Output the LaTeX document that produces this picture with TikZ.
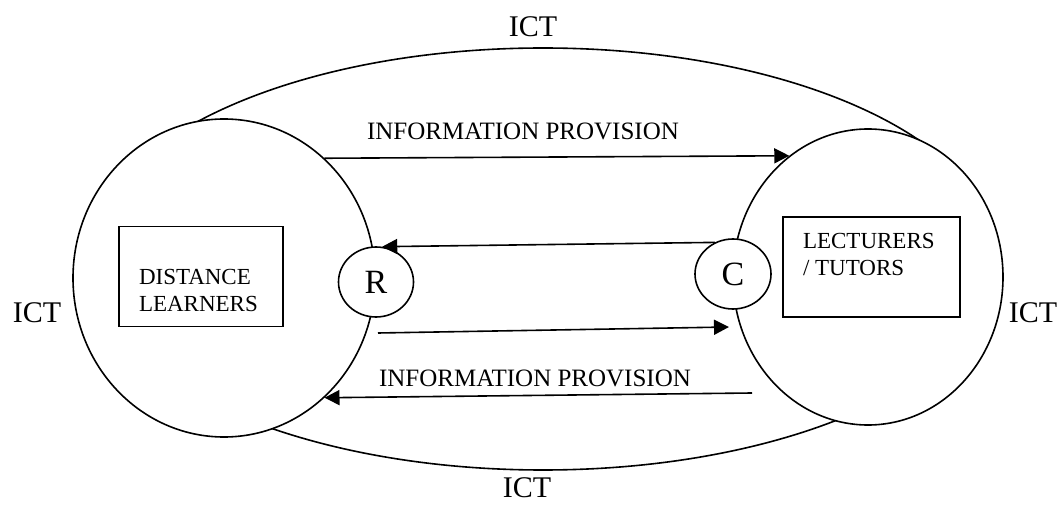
\documentclass[tikz,border=0pt]{standalone}
\usepackage{fontspec}
\setmainfont{Liberation Serif}
\usepackage{tikz}
\usetikzlibrary{shapes,arrows.meta,positioning}

\begin{document}
\begin{tikzpicture}[x=1pt,y=1pt,line width=1.6pt,>={Triangle[length=15pt,width=15pt]}]
\tikzstyle{every node}+=[inner sep=0pt]
\tikzstyle{oval}=[draw=black,ellipse,fill=white]
\tikzstyle{box}=[draw=black,rectangle,minimum height=100pt]
\tikzstyle{boxtext}=[anchor=west,align=left,font=\fontsize{23}{27}\selectfont]
\tikzstyle{ictlabel}=[font=\fontsize{30}{34}\selectfont]
\tikzstyle{infolabel}=[font=\fontsize{25}{29}\selectfont]
\tikzstyle{letter}=[font=\fontsize{34}{38}\selectfont]
\useasboundingbox (0,0) rectangle (1061,504);
\node [oval,fill=none,minimum width=910pt,minimum height=422pt] (ict) at (543,245) {};
\node [oval,minimum width=302pt,minimum height=318pt] (dl) at (224,226) {};
\node [oval,minimum width=270pt,minimum height=296pt] (lt) at (868,227) {};
\node [box,minimum width=164pt] (dlbox) at (201,227.5) {};
\node [boxtext] (dltext) at ([xshift=20pt,yshift=-14pt]dlbox.west) {DISTANCE\\LEARNERS};
\node [box,minimum width=177pt] (ltbox) at (871.5,237) {};
\node [boxtext] (lttext) at ([xshift=20pt,yshift=13pt]ltbox.west) {LECTURERS\\/ TUTORS};
\node [oval,letter,minimum width=75pt,minimum height=70pt] (r) at (376,222) {R};
\node [oval,letter,minimum width=76pt,minimum height=70pt] (c) at (733,230) {C};
\node [ictlabel] (icttop) at (533,477) {ICT};
\node [ictlabel] (ictleft) at (37,191) {ICT};
\node [ictlabel] (ictright) at (1033,191) {ICT};
\node [ictlabel] (ictbottom) at (527,16) {ICT};
\node [infolabel] (infotop) at (523,373) {INFORMATION PROVISION};
\node [infolabel] (infobottom) at (535,126) {INFORMATION PROVISION};
\coordinate (rout) at (378,171);
\coordinate (cin) at (729,177);
\coordinate (ltout) at (752,111);
\draw [black,->] (dl.50) -- (lt.123);
\draw [black,->] (c.120) -- (r.80);
\draw [black,->] (rout) -- (cin);
\draw [black,->] (ltout) -- (dl.-50);
\end{tikzpicture}
\end{document}
